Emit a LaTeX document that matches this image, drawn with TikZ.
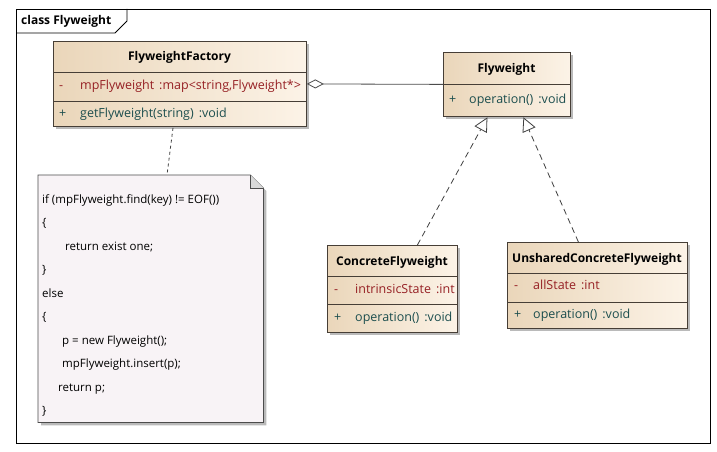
\documentclass[tikz,border=0pt]{standalone}
\usepackage{fontspec}
\setmainfont{Open Sans}
\usetikzlibrary{arrows.meta,calc,shadows}

\definecolor{boxleft}{RGB}{234,214,186}
\definecolor{boxright}{RGB}{252,243,231}
\definecolor{boxline}{RGB}{70,62,54}
\definecolor{notefill}{RGB}{248,243,246}
\definecolor{attrcol}{RGB}{150,32,36}
\definecolor{opcol}{RGB}{28,78,78}

\tikzset{
  umlbox/.style={draw=boxline, line width=0.8pt, left color=boxleft, right color=boxright,
    rectangle, inner sep=0pt, anchor=north west,
    drop shadow={shadow xshift=3pt, shadow yshift=-3pt, fill=black!45, opacity=0.6}},
  divider/.style={draw=boxline, line width=0.8pt},
  header/.style={font=\fontsize{12}{14}\selectfont\bfseries, inner sep=0pt},
  member/.style={font=\fontsize{12.5}{15}\selectfont, anchor=west, inner sep=0pt,
    text height=9pt, text depth=3pt},
  attr/.style={member, text=attrcol},
  oper/.style={member, text=opcol},
  code/.style={font=\fontsize{11.5}{14}\selectfont, anchor=base west, inner sep=0pt},
  notearea/.style={rectangle, inner sep=0pt, anchor=north west},
  aggr/.style={draw=black!70, line width=0.8pt, {Diamond[open, length=17pt, width=9pt, fill=white]}-},
  realize/.style={draw=black!75, line width=0.8pt, dash pattern=on 6pt off 4pt,
    -{Triangle[open, length=14pt, width=14pt, fill=white]}},
  notelink/.style={draw=black!75, line width=0.8pt, dash pattern=on 3pt off 3pt}
}

\begin{document}
\begin{tikzpicture}[x=1pt, y=-1pt]
\useasboundingbox[fill=white] (0,0) rectangle (717,452);

% diagram frame with its name tab
\draw[line width=0.9pt] (16,9) rectangle (710,443);
\draw[line width=0.8pt] (16,33) -- (115,33) -- (127,21) -- (127,9);
\node[header, anchor=west] (frametitle) at (21,21) {class Flyweight};

% FlyweightFactory
\node[umlbox, minimum width=253pt, minimum height=85pt] (factory) at (53,41) {};
\draw[divider] (53,72) -- (306,72);
\draw[divider] (53,101) -- (306,101);
\node[header] (factoryname) at (179.5,57) {FlyweightFactory};
\node[attr] (factoryvis) at (59,86) {-};
\node[attr] (factoryattr) at (80,86) {mpFlyweight\hspace{5pt}:map<string,Flyweight*>};
\node[oper] (factoryopvis) at (59,114) {+};
\node[oper] (factoryop) at (80,114) {getFlyweight(string)\hspace{5pt}:void};

% Flyweight
\node[umlbox, minimum width=127pt, minimum height=64pt] (fly) at (443,52) {};
\draw[divider] (443,84) -- (570,84);
\node[header] (flyname) at (506.5,69) {Flyweight};
\node[oper] (flyopvis) at (449,100) {+};
\node[oper] (flyop) at (469,100) {operation()\hspace{5pt}:void};

% ConcreteFlyweight
\node[umlbox, minimum width=130pt, minimum height=87pt] (concrete) at (327,245) {};
\draw[divider] (327,276) -- (457,276);
\draw[divider] (327,304) -- (457,304);
\node[header] (concretename) at (392,262) {ConcreteFlyweight};
\node[attr] (concretevis) at (334,290) {-};
\node[attr] (concreteattr) at (355,290) {intrinsicState\hspace{5pt}:int};
\node[oper] (concreteopvis) at (334,318) {+};
\node[oper] (concreteop) at (355,318) {operation()\hspace{5pt}:void};

% UnsharedConcreteFlyweight
\node[umlbox, minimum width=180pt, minimum height=86pt] (unshared) at (507,242) {};
\draw[divider] (507,273) -- (687,273);
\draw[divider] (507,302) -- (687,302);
\node[header] (unsharedname) at (597,259) {UnsharedConcreteFlyweight};
\node[attr] (unsharedvis) at (514,286) {-};
\node[attr] (unsharedattr) at (533,286) {allState\hspace{5pt}:int};
\node[oper] (unsharedopvis) at (514,315) {+};
\node[oper] (unsharedop) at (533,315) {operation()\hspace{5pt}:void};

% note attached to getFlyweight
\node[notearea, minimum width=225pt, minimum height=247pt] (note) at (38,175) {};
\fill[black!45, opacity=0.6] ($(note.north west)+(3,3)$) -- ($(note.north east)+(-10,3)$)
  -- ($(note.north east)+(3,16)$) -- ($(note.south east)+(3,3)$) -- ($(note.south west)+(3,3)$) -- cycle;
\filldraw[fill=notefill, draw=black!70, line width=0.8pt]
  (note.north west) -- ($(note.north east)+(-13,0)$) -- ($(note.north east)+(0,13)$)
  -- (note.south east) -- (note.south west) -- cycle;
\filldraw[fill=black!15, draw=black!70, line width=0.8pt]
  ($(note.north east)+(-13,0)$) -- ($(note.north east)+(-13,13)$) -- ($(note.north east)+(0,13)$);
\node[code] (l1) at (42,203) {if (mpFlyweight.find(key) != EOF())};
\node[code] (l2) at (42,226.5) {\{};
\node[code] (l3) at (65,250) {return exist one;};
\node[code] (l4) at (42,273.5) {\}};
\node[code] (l5) at (42,297) {else};
\node[code] (l6) at (42,320.5) {\{};
\node[code] (l7) at (62,344) {p = new Flyweight();};
\node[code] (l8) at (62,367.5) {mpFlyweight.insert(p);};
\node[code] (l9) at (58,391) {return p;};
\node[code] (l10) at (42,414.5) {\}};

% connectors
\draw[aggr] (factory.east) -- (fly.west);
\draw[realize] ($(concrete.north)+(25,0)$) -- ($(fly.south)+(-19.5,0.5)$);
\draw[realize] ($(unshared.north)+(-19,0)$) -- ($(fly.south)+(16.5,0.5)$);
\draw[notelink] ($(factory.south west)+(120,1)$) -- ($(note.north west)+(129,0)$);
\end{tikzpicture}
\end{document}
